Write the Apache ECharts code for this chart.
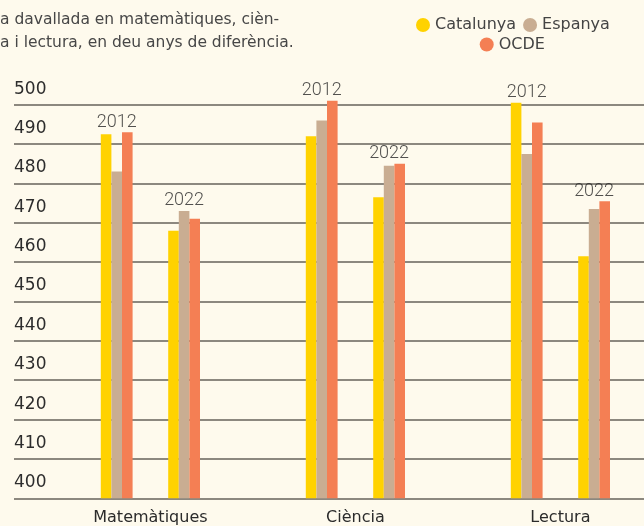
<!DOCTYPE html>
<html>
<head>
<meta charset="utf-8">
<script src="https://cdn.jsdelivr.net/npm/echarts@6/dist/echarts.min.js"></script>
<style>
  html, body { margin: 0; padding: 0; background: #fefaed; }
  #chart { width: 644px; height: 526px; }
</style>
</head>
<body>
<div id="chart"></div>
<script>
// dades
const categories = ['Matemàtiques', 'Ciència', 'Lectura'];
const years = ['2012', '2022'];
const catalunya2012 = [492.5, 492, 500.5];
const espanya2012 = [483, 496, 487.5];
const ocde2012 = [493, 501, 495.5];
const catalunya2022 = [468, 476.5, 461.5];
const espanya2022 = [473, 484.5, 473.5];
const ocde2022 = [471, 485, 475.5];
const yMin = 400;
const yMax = 500;
const yStep = 10;

const colors = { Catalunya: '#FFD200', Espanya: '#C9AD92', OCDE: '#F47F54' };
const barW = 10.6;
const yearGap = 35.6;
const font = 'DejaVu Sans';

const max2012 = categories.map((c, i) => Math.max(catalunya2012[i], espanya2012[i], ocde2012[i]));
const max2022 = categories.map((c, i) => Math.max(catalunya2022[i], espanya2022[i], ocde2022[i]));
const yearOffset = yearGap / 2 + barW * 1.5;

const chart = echarts.init(document.getElementById('chart'));

function bar(name, data) {
  return {
    name: name,
    type: 'bar',
    xAxisIndex: 1,
    yAxisIndex: 1,
    barWidth: barW,
    barGap: '0%',
    itemStyle: { color: colors[name] },
    data: data,
  };
}

function yearLabel(text, data, dx) {
  return {
    type: 'scatter',
    xAxisIndex: 1,
    yAxisIndex: 1,
    symbolSize: 0,
    silent: true,
    clip: false,
    label: {
      show: true,
      position: 'top',
      distance: 1,
      offset: [dx, 0],
      formatter: text,
      fontFamily: 'Roboto',
      fontWeight: 300,
      fontSize: 18,
      lineHeight: 18,
      color: '#262626',
    },
    data: data,
  };
}

const option = {
  backgroundColor: '#fefaed',
  animation: false,
  title: {
    text: 'a davallada en matemàtiques, cièn-\na i lectura, en deu anys de diferència.',
    left: 0,
    top: 9,
    padding: 0,
    textStyle: { fontFamily: font, fontSize: 15.5, lineHeight: 22.6, fontWeight: 'normal', color: '#474747' },
  },
  legend: [
    {
      data: ['Catalunya', 'Espanya'],
      left: 416,
      top: 17,
      icon: 'circle',
      itemWidth: 14,
      itemHeight: 14,
      itemGap: 7,
      padding: 0,
      textStyle: { fontFamily: font, fontSize: 16, lineHeight: 16, color: '#444' },
    },
    {
      data: ['OCDE'],
      left: 479.7,
      top: 36.5,
      icon: 'circle',
      itemWidth: 14,
      itemHeight: 14,
      padding: 0,
      textStyle: { fontFamily: font, fontSize: 16, lineHeight: 16, color: '#444' },
    },
  ],
  grid: [
    { left: 14, right: 0, top: 104.7, height: 393.6 },
    {
      left: 47.9,
      width: 615,
      top: 104.7 - 3.936 * yStep,
      height: 393.6 + 3.936 * yStep,
      outerBoundsMode: 'none',
    },
  ],
  xAxis: [
    { gridIndex: 0, type: 'value', show: false, min: 0, max: 1 },
    {
      gridIndex: 1,
      type: 'category',
      data: categories,
      axisLine: { show: false },
      axisTick: { show: false },
      axisLabel: { margin: 12, fontFamily: font, fontSize: 16, color: '#2b2b2b' },
    },
  ],
  yAxis: [
    {
      gridIndex: 0,
      type: 'value',
      min: yMin,
      max: yMax,
      interval: yStep,
      axisLine: { show: false },
      axisTick: { show: false },
      splitLine: { show: true, showMinLine: true, showMaxLine: true, lineStyle: { color: '#66625a', width: 1.5 } },
      axisLabel: {
        inside: true,
        margin: 0,
        align: 'left',
        verticalAlign: 'bottom',
        padding: [0, 0, 7, 0],
        lineHeight: 17,
        fontFamily: font,
        fontSize: 17,
        color: '#2d2d2d',
      },
    },
    { gridIndex: 1, type: 'value', min: yMin, max: yMax + yStep, show: false },
  ],
  series: [
    bar('Catalunya', catalunya2012),
    bar('Espanya', espanya2012),
    bar('OCDE', ocde2012),
    { name: 'buit', type: 'bar', xAxisIndex: 1, yAxisIndex: 1, barWidth: yearGap, barGap: '0%', data: ['-', '-', '-'] },
    bar('Catalunya', catalunya2022),
    bar('Espanya', espanya2022),
    bar('OCDE', ocde2022),
    yearLabel(years[0], max2012, -yearOffset),
    yearLabel(years[1], max2022, yearOffset),
  ],
};

chart.setOption(option);
</script>
</body>
</html>
